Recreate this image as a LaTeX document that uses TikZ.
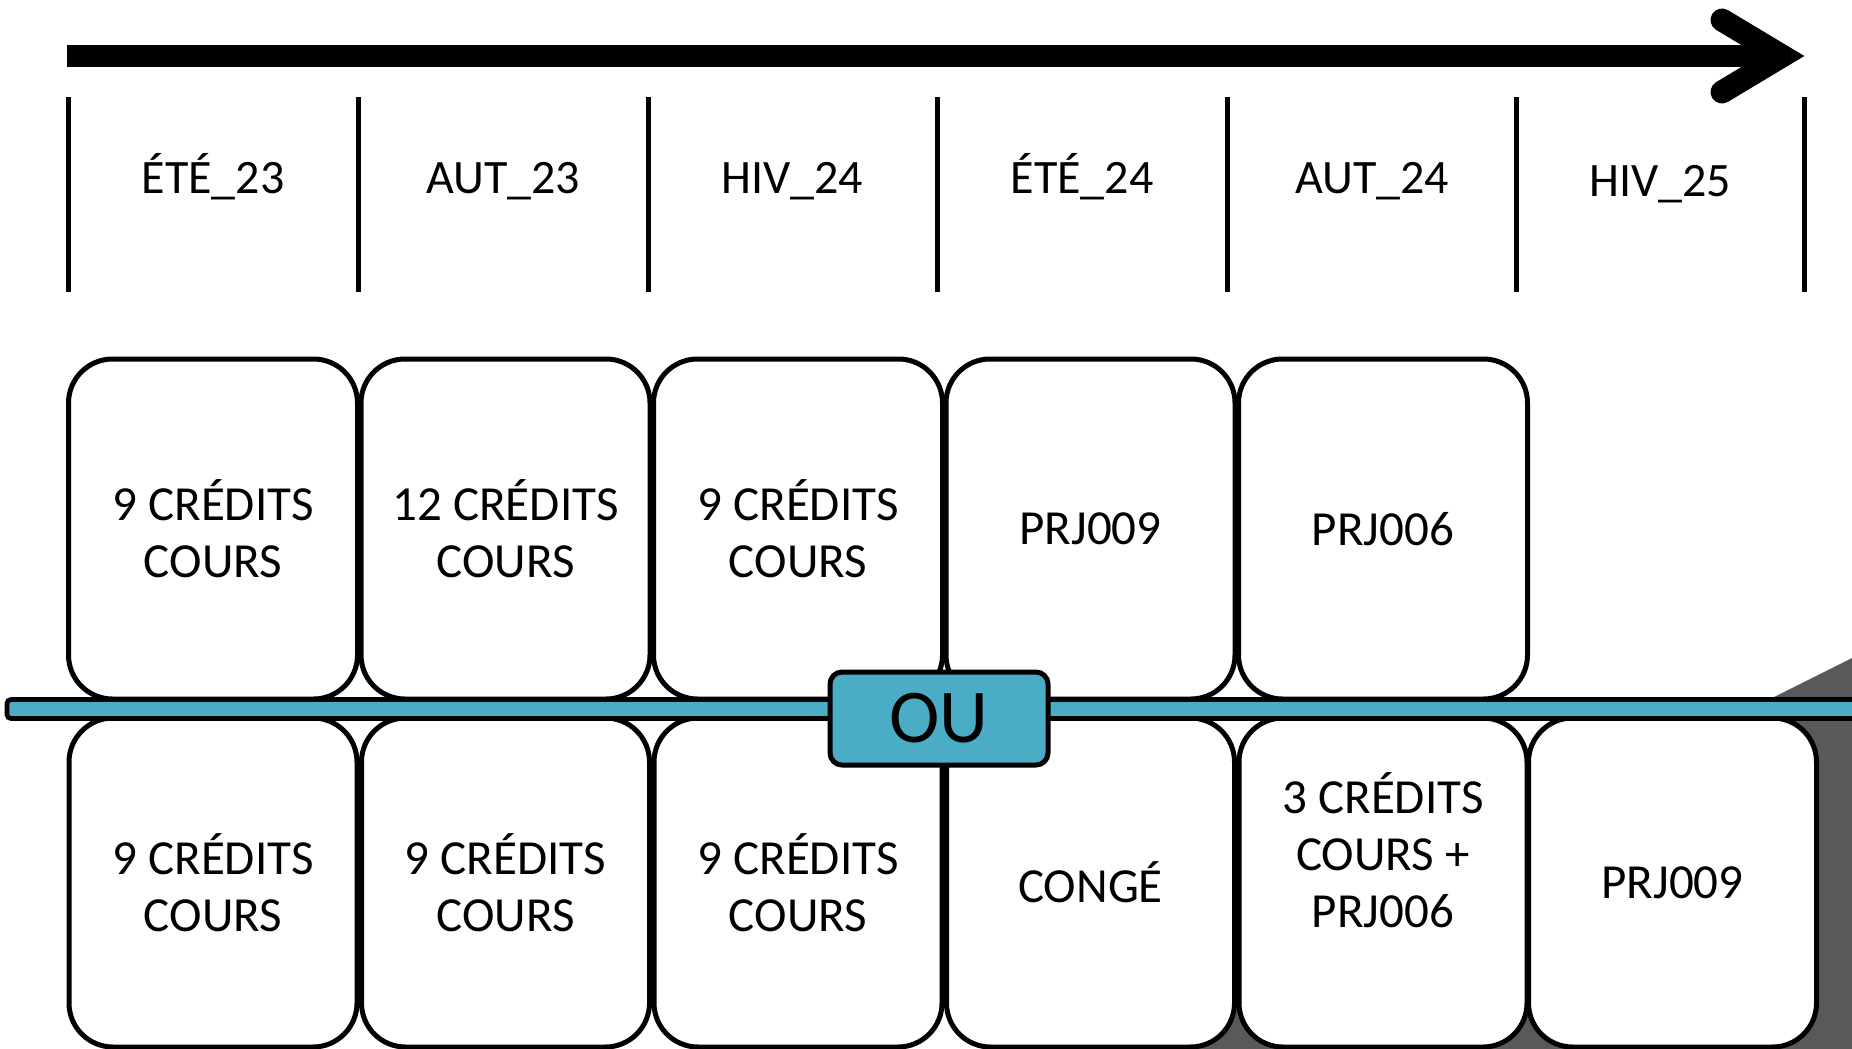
\documentclass[tikz,border=0pt]{standalone}
\usepackage[dvipsnames]{xcolor}
\usepackage{fontspec}
\setmainfont{Carlito}

\definecolor{orblue}{HTML}{4BACC6}
\definecolor{darkshade}{HTML}{595959}

\begin{document}
\begin{tikzpicture}[x=0.5pt,y=-0.5pt,node distance=146.25pt,
    term node/.style={draw,line width=2.5pt,rounded corners=22pt,fill=white,minimum width=144.5pt,minimum height=170pt,align=center,inner sep=0pt,font=\fontsize{24.5}{28.5}\selectfont},
    low node/.style={term node,minimum width=144pt,minimum height=164.5pt},
    term label/.style={anchor=base,inner sep=0pt,font=\fontsize{24}{28.5}\selectfont},
    term tick/.style={line width=2.5pt}]

            \clip (0,0) rectangle (1852,1049);
            \fill[darkshade] (1050,1059) -- (1880,644) -- (1880,1059) -- cycle;

            % time line
            \coordinate (start) at (67,56);
            \coordinate (tip) at (1782,56);
            \draw[line width=11pt] (start) -- (tip);
            \draw[line width=11.5pt,line cap=round,line join=miter] ([shift={(-60,-36)}]tip) -- (tip) -- ([shift={(-60,36)}]tip);

            \draw[term tick] (68,97) -- (68,292);
            \draw[term tick] (358,97) -- (358,292);
            \draw[term tick] (648,97) -- (648,292);
            \draw[term tick] (937,97) -- (937,292);
            \draw[term tick] (1227,97) -- (1227,292);
            \draw[term tick] (1516,97) -- (1516,292);
            \draw[term tick] (1804,97) -- (1804,292);

            \node[term label] (ete23) at (213,193) {ÉTÉ\_23};
            \node[term label] (aut23) at (503,193) {AUT\_23};
            \node[term label] (hiv24) at (792,193) {HIV\_24};
            \node[term label] (ete24) at (1082,193) {ÉTÉ\_24};
            \node[term label] (aut24) at (1372,193) {AUT\_24};
            \node[term label] (hiv25) at (1660,196) {HIV\_25};

            % first path
            \node[term node] (t1) at (213,529) {9 CRÉDITS\\COURS};
            \node[term node] (t2) [right of = t1] {12 CRÉDITS\\COURS};
            \node[term node] (t3) [right of = t2] {9 CRÉDITS\\COURS};
            \node[term node] (t4) [right of = t3] {PRJ009};
            \node[term node] (t5) [right of = t4] {PRJ006};

            % second path
            \node[low node] (b1) [node distance=176.75pt, below of = t1] {9 CRÉDITS\\COURS};
            \node[low node] (b2) [node distance=176.75pt, below of = t2] {9 CRÉDITS\\COURS};
            \node[low node] (b3) [node distance=176.75pt, below of = t3] {9 CRÉDITS\\COURS};
            \node[low node] (b4) [node distance=176.75pt, below of = t4] {CONGÉ};
            \node[low node] (b5) [node distance=176.75pt, below of = t5] {3 CRÉDITS\\COURS +\\PRJ006\\[4pt]\mbox{}};
            \node[low node] (b6) [node distance=144.75pt, right of = b5] {PRJ009};

            \draw[line width=2.35pt,fill=orblue,rounded corners=2pt] (7,699.5) rectangle (1900,718.5);
            \node[draw,line width=2.5pt,fill=orblue,rounded corners=6pt,minimum width=109pt,minimum height=46.5pt,inner sep=0pt,font=\fontsize{38}{42}\selectfont] (ou) at (939,718.5) {OU};

\end{tikzpicture}
\end{document}
